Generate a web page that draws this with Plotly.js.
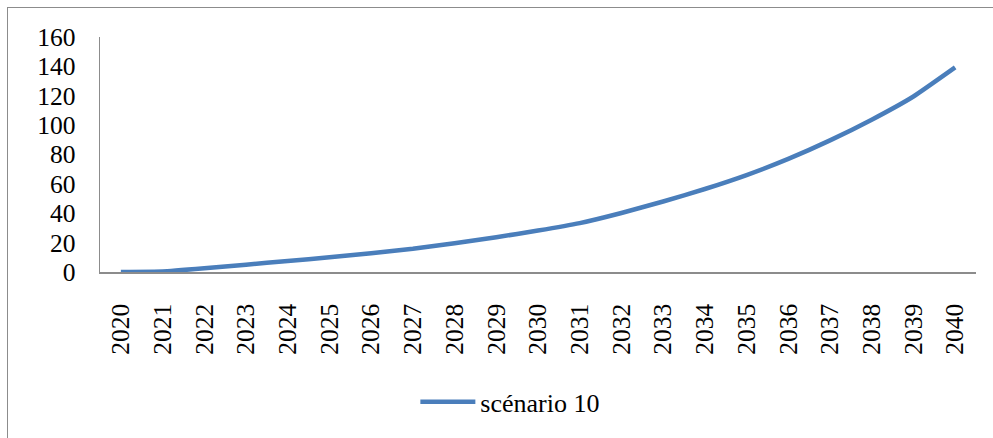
<!DOCTYPE html>
<html>
<head>
<meta charset="utf-8">
<script src="https://cdn.plot.ly/plotly-3.0.1.min.js"></script>
<style>
  html, body { margin: 0; padding: 0; background: #fff; }
  #wrap { position: relative; width: 993px; height: 438px; overflow: hidden; }
  #chart { position: absolute; left: 0; top: 0; width: 993px; height: 438px; }
  #frame { position: absolute; left: 7px; top: 7px; width: 1100px; height: 600px;
           border-left: 1.5px solid #8c8c8c; border-top: 1.5px solid #8c8c8c; pointer-events: none; }
</style>
</head>
<body>
<div id="wrap">
  <div id="chart"></div>
  <div id="frame"></div>
</div>
<script>
const years = ["2020","2021","2022","2023","2024","2025","2026","2027","2028","2029","2030",
               "2031","2032","2033","2034","2035","2036","2037","2038","2039","2040"];
const scenario10 = [0, 0.3, 2.5, 5, 7.5, 10, 12.8, 15.8, 19.6, 23.7, 28.2,
                    33.3, 40.2, 48, 56.5, 66, 77, 89.6, 103.7, 119.5, 139.3];
const seriesName = "scénario 10";
const yTicks = [0, 20, 40, 60, 80, 100, 120, 140, 160];

const fontFam = 'Liberation Serif, Times New Roman, serif';

Plotly.newPlot('chart', [{
  x: years,
  y: scenario10,
  type: 'scatter',
  mode: 'lines',
  name: seriesName,
  line: { color: '#4a7ebb', width: 4.5, shape: 'spline', smoothing: 0.4 }
}], {
  width: 993,
  height: 438,
  margin: { l: 100, r: 17, t: 37, b: 166 },
  paper_bgcolor: '#ffffff',
  plot_bgcolor: '#ffffff',
  font: { family: fontFam, size: 25, color: '#000' },
  showlegend: true,
  legend: {
    orientation: 'h',
    itemwidth: 55,
    x: 0.36, xanchor: 'left',
    y: -0.553, yanchor: 'middle',
    font: { family: fontFam, size: 26, color: '#000' },
    bgcolor: 'rgba(0,0,0,0)'
  },
  xaxis: {
    type: 'category',
    tickangle: -90,
    showgrid: false,
    zeroline: false,
    showline: true,
    linecolor: '#8c8c8c',
    linewidth: 1.5,
    ticks: '',
    ticklabelstandoff: 20,
    tickfont: { family: fontFam, size: 25.5, color: '#000' },
    range: [-0.5, 20.5]
  },
  yaxis: {
    range: [0, 160],
    tickvals: yTicks,
    ticktext: yTicks.map(String),
    showgrid: false,
    zeroline: false,
    showline: true,
    linecolor: '#8c8c8c',
    linewidth: 1.5,
    ticks: '',
    ticklabelstandoff: 18,
    tickfont: { family: fontFam, size: 25.5, color: '#000' }
  }
}, { displayModeBar: false, staticPlot: true });
</script>
</body>
</html>
